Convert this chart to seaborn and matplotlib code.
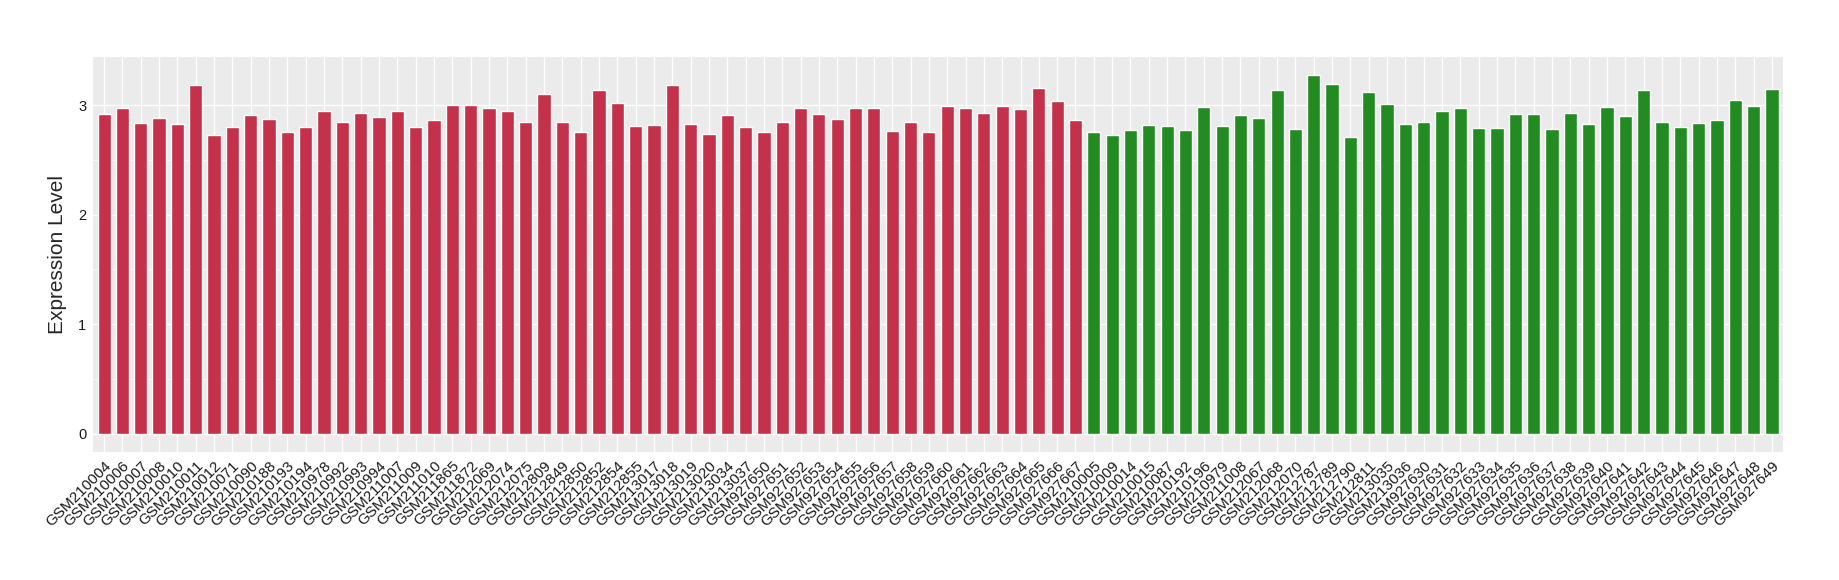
import pandas as pd
import seaborn as sns
import matplotlib.pyplot as plt
from matplotlib.ticker import MultipleLocator

# samples in group A (red) and group B (green)
samples_a = ["GSM210004", "GSM210006", "GSM210007", "GSM210008", "GSM210010", "GSM210011",
             "GSM210012", "GSM210071", "GSM210090", "GSM210188", "GSM210193", "GSM210194",
             "GSM210978", "GSM210992", "GSM210993", "GSM210994", "GSM211007", "GSM211009",
             "GSM211010", "GSM211865", "GSM211872", "GSM212069", "GSM212074", "GSM212075",
             "GSM212809", "GSM212849", "GSM212850", "GSM212852", "GSM212854", "GSM212855",
             "GSM213017", "GSM213018", "GSM213019", "GSM213020", "GSM213034", "GSM213037",
             "GSM927650", "GSM927651", "GSM927652", "GSM927653", "GSM927654", "GSM927655",
             "GSM927656", "GSM927657", "GSM927658", "GSM927659", "GSM927660", "GSM927661",
             "GSM927662", "GSM927663", "GSM927664", "GSM927665", "GSM927666", "GSM927667"]
values_a = [2.92, 2.97, 2.84, 2.88, 2.83, 3.18, 2.73, 2.80, 2.91, 2.87, 2.75, 2.80,
            2.95, 2.85, 2.93, 2.89, 2.95, 2.80, 2.86, 3.00, 3.00, 2.97, 2.95, 2.85,
            3.10, 2.85, 2.75, 3.14, 3.02, 2.81, 2.82, 3.18, 2.83, 2.74, 2.91, 2.80,
            2.75, 2.85, 2.97, 2.92, 2.87, 2.97, 2.97, 2.76, 2.85, 2.75, 2.99, 2.97,
            2.93, 2.99, 2.96, 3.16, 3.04, 2.86]

samples_b = ["GSM210005", "GSM210009", "GSM210014", "GSM210015", "GSM210087", "GSM210192",
             "GSM210196", "GSM210979", "GSM211008", "GSM212067", "GSM212068", "GSM212070",
             "GSM212787", "GSM212789", "GSM212790", "GSM212811", "GSM213035", "GSM213036",
             "GSM927630", "GSM927631", "GSM927632", "GSM927633", "GSM927634", "GSM927635",
             "GSM927636", "GSM927637", "GSM927638", "GSM927639", "GSM927640", "GSM927641",
             "GSM927642", "GSM927643", "GSM927644", "GSM927645", "GSM927646", "GSM927647",
             "GSM927648", "GSM927649"]
values_b = [2.75, 2.73, 2.77, 2.82, 2.81, 2.77, 2.98, 2.81, 2.91, 2.88, 3.14, 2.78,
            3.27, 3.19, 2.71, 3.12, 3.01, 2.83, 2.85, 2.95, 2.97, 2.79, 2.79, 2.92,
            2.92, 2.78, 2.93, 2.83, 2.98, 2.90, 3.14, 2.85, 2.80, 2.84, 2.86, 3.05,
            2.99, 3.15]

df = pd.DataFrame({
    "sample": samples_a + samples_b,
    "value": values_a + values_b,
    "group": ["A"] * len(samples_a) + ["B"] * len(samples_b),
})

sns.set_theme(style="darkgrid")
plt.rcParams["font.family"] = ["Liberation Sans", "DejaVu Sans"]

fig = plt.figure(figsize=(18.4, 5.8), dpi=100)
ax = fig.add_axes([0.0506, 0.221, 0.9184, 0.681])
ax.set_facecolor("#EBEBEB")

sns.barplot(data=df, x="sample", y="value", hue="group",
            palette={"A": "#C3314A", "B": "#228B22"},
            dodge=False, width=0.72, saturation=1, legend=False, ax=ax)

n = len(df)
ax.set_xlim(-0.6, n - 0.4)
ax.set_ylim(-0.164, 3.44)
ax.yaxis.set_major_locator(MultipleLocator(1))
ax.yaxis.set_minor_locator(MultipleLocator(0.5))
ax.set_axisbelow(True)
ax.grid(which="major", color="white", linewidth=1.0)
ax.grid(which="minor", axis="y", color="white", linewidth=0.5)
for s in ax.spines.values():
    s.set_visible(False)

ax.tick_params(axis="both", which="major", length=3, width=0.8, color="#333333",
               labelcolor="#1a1a1a", labelsize=10.5, pad=2)
ax.tick_params(axis="y", which="minor", length=0)
ax.tick_params(axis="x", labelsize=11)
plt.setp(ax.get_xticklabels(), rotation=45, ha="right", rotation_mode="anchor")

ax.set_xlabel("")
ax.set_ylabel("Expression Level", fontsize=15, labelpad=8)

fig.savefig("out.png", dpi=100)
